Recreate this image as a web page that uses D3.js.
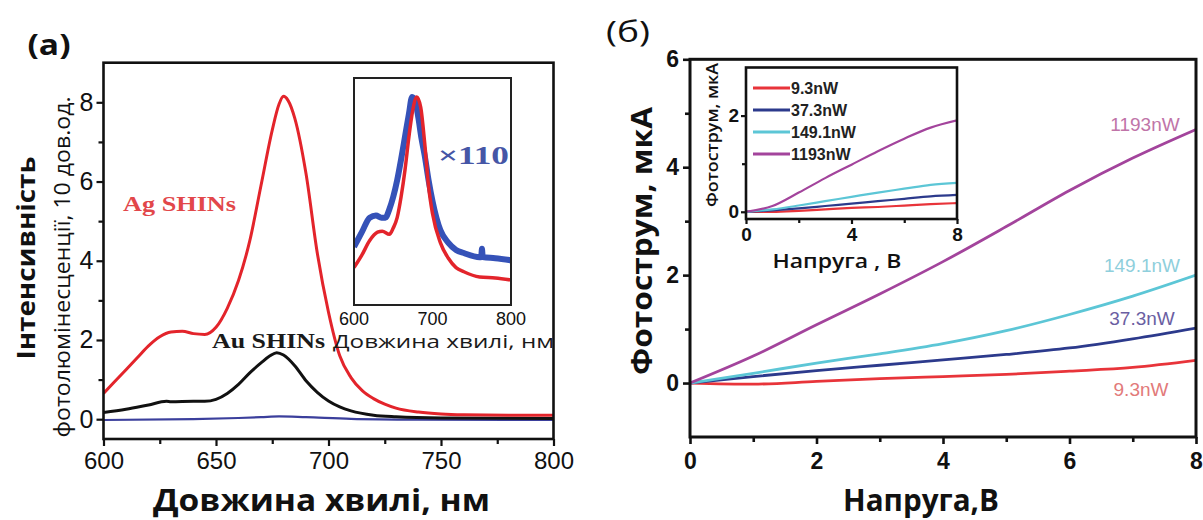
<!DOCTYPE html>
<html>
<head>
<meta charset="utf-8">
<script src="https://cdn.jsdelivr.net/npm/d3@7"></script>
<style>
  body { margin: 0; background: #fff; }
  svg { display: block; }
</style>
</head>
<body>
<svg id="chart" width="1203" height="520"></svg>
<script>
// ---------- Panel (a): photoluminescence spectra ----------
const agWavelength = [600,605,610,615,620,625,630,635,640,645,650,655,660,665,670,675,678,680,682,685,690,695,700,705,710,715,720,725,730,740,750,760,780,800];
const agIntensity  = [0.65,0.95,1.25,1.55,1.85,2.08,2.2,2.22,2.16,2.14,2.32,2.8,3.5,4.5,5.9,7.3,7.95,8.15,8.05,7.6,6.2,4.2,2.7,1.6,1.05,0.72,0.52,0.38,0.28,0.18,0.13,0.11,0.1,0.1];

const auWavelength = [600,610,620,628,630,640,645,650,655,660,665,670,674,677,680,685,690,695,700,705,710,720,730,750,800];
const auIntensity  = [0.17,0.25,0.36,0.45,0.44,0.45,0.45,0.5,0.65,0.88,1.17,1.42,1.6,1.68,1.62,1.35,0.97,0.68,0.46,0.31,0.21,0.1,0.06,0.03,0.02];

const refWavelength = [600,640,660,670,678,690,710,740,800];
const refIntensity  = [-0.02,0.0,0.03,0.05,0.07,0.05,0.01,-0.01,-0.02];

// Inset (a): normalised spectra
const insetAgWavelength = [600,610,620,630,636,645,650,655,660,665,670,675,680,685,690,695,700,710,720,730,740,760,780,800];
const insetAgValue      = [0.18,0.24,0.31,0.35,0.355,0.34,0.37,0.42,0.52,0.65,0.81,0.94,1.0,0.95,0.78,0.57,0.44,0.3,0.226,0.18,0.16,0.135,0.13,0.12];
const insetAuWavelength = [600,610,620,628,635,640,645,650,655,660,665,670,674,678,682,686,690,695,700,710,720,730,740,760,762,763,764,780,800];
const insetAuValue      = [0.28,0.35,0.42,0.43,0.42,0.42,0.46,0.52,0.6,0.7,0.81,0.92,1.0,0.98,0.9,0.8,0.72,0.6,0.5,0.36,0.3,0.265,0.25,0.23,0.23,0.27,0.23,0.225,0.215];

const xTicksA = [600,650,700,750,800];
const xMinorA = [625,675,725,775];
const yTicksA = [0,2,4,6,8];
const yMinorA = [1,3,5,7];
const xTicksInsetA = [600,700,800];

// ---------- Panel (б): photocurrent vs voltage ----------
const voltage = [0,1,2,3,4,5,6,7,8];
const powerLabels = ["9.3nW","37.3nW","149.1nW","1193nW"];
const current9   = [0,-0.02,0.03,0.08,0.12,0.16,0.22,0.29,0.42];
const current37  = [0,0.12,0.23,0.33,0.43,0.53,0.65,0.82,1.02];
const current149 = [0,0.18,0.37,0.54,0.73,0.97,1.27,1.61,2.0];
const current1193= [0,0.5,1.08,1.65,2.25,2.9,3.57,4.17,4.7];

const insetCurrent9   = [0,0.0,0.02,0.05,0.08,0.1,0.13,0.16,0.18];
const insetCurrent37  = [0,0.03,0.07,0.12,0.17,0.22,0.27,0.32,0.35];
const insetCurrent149 = [0,0.05,0.13,0.22,0.31,0.4,0.48,0.56,0.6];
const insetCurrent1193= [0,0.12,0.4,0.7,0.98,1.26,1.52,1.75,1.9];

const xTicksB = [0,2,4,6,8];
const xMinorB = [1,3,5,7];
const yTicksB = [0,2,4,6];
const yMinorB = [1,3,5];
const xTicksInsetB = [0,4,8];
const xMinorInsetB = [2,6];
const yTicksInsetB = [0,2];
const yMinorInsetB = [1];

const SANS = "'Liberation Sans', Arial, sans-serif";
const SERIF = "'Liberation Serif', 'Times New Roman', serif";
const TITLE = "'Open Sans', 'Noto Sans', sans-serif";

const svg = d3.select("#chart");

function zipXY(xs, ys) { return xs.map((x, i) => [x, ys[i]]); }

function drawAxis(g, scale, orient, major, minor, opts) {
  const isX = orient === "bottom";
  const axisMajor = (isX ? d3.axisBottom(scale) : d3.axisLeft(scale))
    .tickValues(major).tickSizeOuter(0).tickSizeInner(opts.majorLen).tickPadding(opts.pad)
    .tickFormat(opts.labels === false ? "" : d3.format("d"));
  const ga = g.append("g").attr("transform", isX ? `translate(0,${opts.at})` : `translate(${opts.at},0)`).call(axisMajor);
  ga.select(".domain").remove();
  ga.selectAll(".tick line").attr("stroke", "#111").attr("stroke-width", opts.tickW);
  ga.selectAll(".tick text").attr("fill", "#111").attr("font-family", SANS)
    .attr("font-size", opts.fs).attr("font-weight", opts.fw);
  if (minor && minor.length) {
    const axisMinor = (isX ? d3.axisBottom(scale) : d3.axisLeft(scale))
      .tickValues(minor).tickSizeOuter(0).tickSizeInner(opts.minorLen).tickFormat("");
    const gm = g.append("g").attr("transform", isX ? `translate(0,${opts.at})` : `translate(${opts.at},0)`).call(axisMinor);
    gm.select(".domain").remove();
    gm.selectAll(".tick line").attr("stroke", "#111").attr("stroke-width", opts.tickW);
  }
  return ga;
}

function frame(g, x0, y0, x1, y1, w, color) {
  g.append("rect").attr("x", x0).attr("y", y0).attr("width", x1 - x0).attr("height", y1 - y0)
    .attr("fill", "none").attr("stroke", color || "#111").attr("stroke-width", w);
}

function clip(id, x0, y0, x1, y1) {
  svg.append("clipPath").attr("id", id).append("rect")
    .attr("x", x0).attr("y", y0).attr("width", x1 - x0).attr("height", y1 - y0);
}

function fitText(g, txt, x, y, len, o) {
  const t = g.append("text").attr("x", x).attr("y", y).text(txt)
    .attr("font-family", o.ff).attr("font-size", o.fs).attr("font-weight", o.fw || "normal")
    .attr("fill", o.fill || "#111").attr("text-anchor", "middle").attr("dominant-baseline", "central");
  if (len) t.attr("textLength", len).attr("lengthAdjust", "spacingAndGlyphs");
  if (o.rotate) t.attr("transform", `rotate(-90,${x},${y})`);
  return t;
}

// ================= Panel (a) =================
const A = { x0: 103.5, x1: 553.5, y0: 62.7, y1: 439 };
const xA = d3.scaleLinear().domain([600, 800]).range([A.x0, A.x1]);
const yA = d3.scaleLinear().domain([-0.5, 9]).range([A.y1, A.y0]);
const gA = svg.append("g");
clip("clipA", A.x0, A.y0, A.x1, A.y1);

const lineA = d3.line().x(d => xA(d[0])).y(d => yA(d[1])).curve(d3.curveMonotoneX);
const plotA = gA.append("g").attr("clip-path", "url(#clipA)");
plotA.append("path").attr("d", lineA(zipXY(refWavelength, refIntensity)))
  .attr("fill", "none").attr("stroke", "#3b3f9c").attr("stroke-width", 2.2);
plotA.append("path").attr("d", lineA(zipXY(auWavelength, auIntensity)))
  .attr("fill", "none").attr("stroke", "#111").attr("stroke-width", 3);
plotA.append("path").attr("d", lineA(zipXY(agWavelength, agIntensity)))
  .attr("fill", "none").attr("stroke", "#e3242b").attr("stroke-width", 3);

drawAxis(gA, xA, "bottom", xTicksA, xMinorA, { at: A.y1, majorLen: 7, minorLen: 5, pad: 6, tickW: 2.2, fs: 24, fw: "normal" });
drawAxis(gA, yA, "left", yTicksA, yMinorA, { at: A.x0, majorLen: 7, minorLen: 5, pad: 3, tickW: 2.2, fs: 25, fw: "normal" });
frame(gA, A.x0, A.y0, A.x1, A.y1, 2.6);

// inset (a)
const IA = { x0: 354, x1: 511, y0: 78, y1: 305 };
const xIA = d3.scaleLinear().domain([600, 800]).range([IA.x0, IA.x1]);
const yIA = d3.scaleLinear().domain([0, 1]).range([IA.y1, 97]);
clip("clipIA", IA.x0, IA.y0, IA.x1, IA.y1);
gA.append("rect").attr("x", IA.x0).attr("y", IA.y0).attr("width", IA.x1 - IA.x0).attr("height", IA.y1 - IA.y0).attr("fill", "#fff");
const lineIA = d3.line().x(d => xIA(d[0])).y(d => yIA(d[1])).curve(d3.curveMonotoneX);
const plotIA = gA.append("g").attr("clip-path", "url(#clipIA)");
plotIA.append("path").attr("d", lineIA(zipXY(insetAuWavelength, insetAuValue)))
  .attr("fill", "none").attr("stroke", "#3552b8").attr("stroke-width", 6).attr("stroke-linejoin", "round");
plotIA.append("path").attr("d", lineIA(zipXY(insetAgWavelength, insetAgValue)))
  .attr("fill", "none").attr("stroke", "#e3242b").attr("stroke-width", 3.5);
frame(gA, IA.x0, IA.y0, IA.x1, IA.y1, 2, "#222");
gA.append("g").selectAll("text").data(xTicksInsetA).join("text")
  .attr("x", d => xIA(d)).attr("y", 319).text(d => d)
  .attr("font-family", SANS).attr("font-size", 18).attr("fill", "#111")
  .attr("text-anchor", "middle").attr("dominant-baseline", "central");

// annotations (a)
fitText(gA, "Ag SHINs", 179.5, 203, 113, { ff: SERIF, fs: 22, fw: "bold", fill: "#e2474a" });
fitText(gA, "Au SHINs", 268.5, 341, 113, { ff: SERIF, fs: 21, fw: "bold", fill: "#1a1a1a" });
fitText(gA, "Довжина хвилі, нм", 443.5, 341, 221, { ff: TITLE, fs: 19, fw: "normal", fill: "#1a1a1a" });
fitText(gA, "×110", 473.5, 155, 71, { ff: SERIF, fs: 25, fw: "bold", fill: "#4656a6" });
fitText(gA, "(a)", 49, 43, 43, { ff: TITLE, fs: 29, fw: "bold", fill: "#111" });
fitText(gA, "Довжина хвилі, нм", 321.5, 499, 337, { ff: TITLE, fs: 30, fw: "bold", fill: "#111" });
fitText(gA, "Інтенсивність", 25, 258, 203, { ff: TITLE, fs: 25, fw: "bold", fill: "#111", rotate: true });
fitText(gA, "фотолюмінесценції, 10  дов.од.", 61, 267, 341, { ff: TITLE, fs: 22, fw: "normal", fill: "#111", rotate: true });

// ================= Panel (б) =================
const B = { x0: 690, x1: 1196, y0: 59.3, y1: 437 };
const xB = d3.scaleLinear().domain([0, 8]).range([B.x0, B.x1]);
const yB = d3.scaleLinear().domain([-1, 6]).range([B.y1, B.y0]);
const gB = svg.append("g");
clip("clipB", B.x0, B.y0, B.x1, B.y1);

const seriesB = [
  { label: powerLabels[0], values: current9,    inset: insetCurrent9,    color: "#e8343a", text: "#e27a7a" },
  { label: powerLabels[1], values: current37,   inset: insetCurrent37,   color: "#2c3a8c", text: "#6a5ea2" },
  { label: powerLabels[2], values: current149,  inset: insetCurrent149,  color: "#5cc6d6", text: "#8fcfdc" },
  { label: powerLabels[3], values: current1193, inset: insetCurrent1193, color: "#a3449c", text: "#c074a8" }
];

const lineB = d3.line().x(d => xB(d[0])).y(d => yB(d[1])).curve(d3.curveMonotoneX);
const plotB = gB.append("g").attr("clip-path", "url(#clipB)");
seriesB.forEach(s => {
  plotB.append("path").attr("d", lineB(zipXY(voltage, s.values)))
    .attr("fill", "none").attr("stroke", s.color).attr("stroke-width", 2.8);
});

drawAxis(gB, xB, "bottom", xTicksB, xMinorB, { at: B.y1, majorLen: 7, minorLen: 5, pad: 9, tickW: 2.6, fs: 23, fw: "bold" });
drawAxis(gB, yB, "left", yTicksB, yMinorB, { at: B.x0, majorLen: 7, minorLen: 5, pad: 4, tickW: 2.6, fs: 23, fw: "bold" });
frame(gB, B.x0, B.y0, B.x1, B.y1, 3);

// end-of-curve labels
const labelPos = [
  { x: 1141, y: 389 }, { x: 1142, y: 318 }, { x: 1142, y: 265 }, { x: 1145, y: 124 }
];
seriesB.forEach((s, i) => {
  fitText(gB, s.label, labelPos[i].x, labelPos[i].y, null, { ff: SANS, fs: 19, fw: "normal", fill: s.text });
});

// inset (б)
const IB = { x0: 746, x1: 957, y0: 67.5, y1: 219 };
const xIB = d3.scaleLinear().domain([0, 8]).range([IB.x0, IB.x1]);
const yIB = d3.scaleLinear().domain([-0.15, 3]).range([IB.y1, IB.y0]);
clip("clipIB", IB.x0, IB.y0, IB.x1, IB.y1);
gB.append("rect").attr("x", IB.x0).attr("y", IB.y0).attr("width", IB.x1 - IB.x0).attr("height", IB.y1 - IB.y0).attr("fill", "#fff");
const lineIB = d3.line().x(d => xIB(d[0])).y(d => yIB(d[1])).curve(d3.curveMonotoneX);
const plotIB = gB.append("g").attr("clip-path", "url(#clipIB)");
seriesB.forEach(s => {
  plotIB.append("path").attr("d", lineIB(zipXY(voltage, s.inset)))
    .attr("fill", "none").attr("stroke", s.color).attr("stroke-width", 2.2);
});
drawAxis(gB, xIB, "bottom", xTicksInsetB, xMinorInsetB, { at: IB.y1, majorLen: 5, minorLen: 4, pad: 4, tickW: 2.2, fs: 19, fw: "bold" });
drawAxis(gB, yIB, "left", yTicksInsetB, yMinorInsetB, { at: IB.x0, majorLen: 5, minorLen: 4, pad: 2, tickW: 2.2, fs: 19, fw: "bold" });
frame(gB, IB.x0, IB.y0, IB.x1, IB.y1, 2.6);

// legend inside inset
const legY = [88, 110, 132, 154];
seriesB.forEach((s, i) => {
  gB.append("line").attr("x1", 753).attr("x2", 790).attr("y1", legY[i]).attr("y2", legY[i])
    .attr("stroke", s.color).attr("stroke-width", 3);
  gB.append("text").attr("x", 791).attr("y", legY[i]).text(s.label)
    .attr("font-family", SANS).attr("font-size", 16).attr("font-weight", "bold").attr("fill", "#222")
    .attr("dominant-baseline", "central");
});

fitText(gB, "Фотострум, мкА", 711, 135, 144, { ff: TITLE, fs: 17, fw: "600", fill: "#111", rotate: true });
fitText(gB, "Напруга , В", 837, 260, 129, { ff: TITLE, fs: 20, fw: "600", fill: "#111" });
fitText(gB, "(б)", 628, 30, 44, { ff: TITLE, fs: 29, fw: "normal", fill: "#111" });
fitText(gB, "Фотострум, мкА", 640, 241, 268, { ff: TITLE, fs: 29, fw: "bold", fill: "#111", rotate: true });
fitText(gB, "Напруга,В", 921, 499, 156, { ff: TITLE, fs: 30, fw: "bold", fill: "#111" });
</script>
</body>
</html>
